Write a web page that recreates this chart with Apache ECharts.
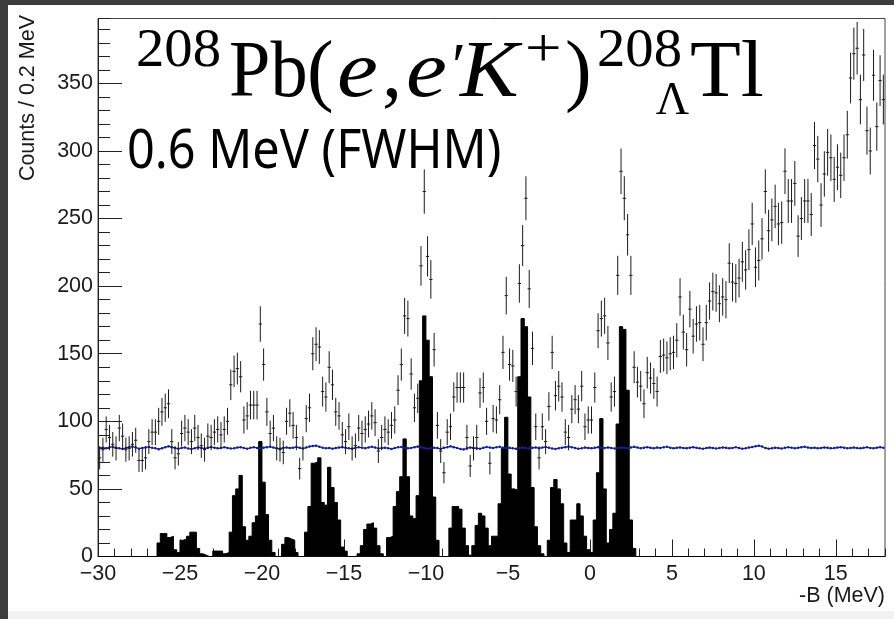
<!DOCTYPE html>
<html>
<head>
<meta charset="utf-8">
<script src="https://cdn.jsdelivr.net/npm/echarts@6.0.0/dist/echarts.min.js"></script>
<style>
  html, body { margin: 0; padding: 0; background: #ffffff; }
  #chart { width: 894px; height: 619px; }
</style>
</head>
<body>
<div id="chart"></div>
<script>
// Histogram binning: -B from -30 to 18 MeV in 0.2 MeV bins
const X_MIN = -30, X_MAX = 18, BIN = 0.2;

// Measured counts per 0.2 MeV bin (bin left edges -30.0 ... 17.8)
const dataCounts = [
  73, 79, 94, 88, 83, 80, 95, 89, 79, 80,
  83, 86, 71, 71, 73, 85, 92, 92, 100, 107,
  110, 113, 85, 73, 76, 91, 95, 92, 85, 95,
  88, 82, 79, 89, 88, 92, 94, 90, 94, 100,
  127, 137, 139, 133, 101, 104, 112, 112, 112, 172,
  142, 107, 91, 95, 80, 79, 77, 100, 106, 97,
  88, 65, 80, 102, 110, 150, 157, 155, 122, 118,
  140, 127, 107, 104, 90, 85, 96, 80, 82, 95,
  91, 94, 98, 104, 99, 78, 88, 94, 92, 97,
  101, 123, 142, 178, 176, 135, 110, 117, 215, 270,
  222, 205, 153, 97, 78, 62, 92, 96, 118, 125,
  125, 125, 88, 67, 80, 88, 121, 125, 100, 69,
  102, 101, 116, 151, 193, 142, 141, 122, 202, 230,
  265, 198, 154, 96, 73, 96, 85, 111, 151, 119,
  126, 118, 92, 88, 109, 116, 109, 126, 96, 101,
  101, 125, 167, 176, 178, 158, 118, 122, 208, 285,
  265, 238, 208, 140, 129, 126, 113, 136, 132, 128,
  122, 148, 149, 147, 150, 151, 160, 192, 166, 153,
  183, 163, 172, 173, 157, 173, 189, 196, 195, 187,
  192, 190, 217, 203, 202, 206, 218, 212, 227, 246,
  214, 219, 235, 270, 241, 249, 259, 246, 247, 285,
  263, 263, 276, 237, 250, 263, 263, 253, 304, 294,
  260, 283, 299, 295, 279, 288, 282, 295, 312, 354,
  372, 376, 338, 371, 315, 300, 356, 318, 352, 338
];

// Hypernuclear signal spectrum (filled), bins from -27.0 to 2.6; zero elsewhere
const signalStart = -27.0;
const signalCounts = [
  0, 0, 0, 10, 17, 17, 14, 15, 5, 3,
  12, 13, 15, 18, 18, 6, 2, 1, 0, 0,
  4, 4, 4, 2, 3, 18, 45, 50, 60, 22,
  12, 15, 25, 30, 85, 55, 31, 12, 3, 0,
  0, 9, 14, 13, 12, 3, 0, 0, 18, 37,
  69, 70, 73, 40, 38, 66, 51, 40, 27, 7,
  4, 0, 0, 0, 2, 8, 20, 24, 25, 21,
  8, 2, 0, 14, 15, 37, 48, 59, 87, 59,
  30, 28, 45, 130, 178, 160, 133, 44, 12, 0,
  0, 0, 21, 37, 37, 35, 21, 8, 1, 8,
  23, 32, 30, 21, 8, 15, 15, 39, 80, 103,
  61, 50, 49, 133, 176, 170, 118, 51, 22, 8,
  2, 0, 12, 51, 57, 50, 39, 10, 3, 27,
  27, 39, 30, 15, 5, 3, 27, 62, 102, 50,
  10, 20, 32, 98, 170, 168, 123, 27, 6
];

// Accidental background per bin (bin left edges -30.0 ... 17.8)
const backgroundCounts = [
  80.2, 80.5, 80.1, 80.8, 81.2, 80.4, 80.0, 79.6, 80.3, 80.9,
  81.3, 80.6, 79.8, 80.2, 80.7, 81.0, 80.4, 80.1, 79.4, 80.0,
  80.8, 81.5, 80.9, 80.2, 79.7, 80.3, 80.6, 79.9, 79.5, 80.1,
  80.7, 80.3, 79.8, 80.4, 81.0, 80.5, 80.0, 80.2, 80.8, 80.3,
  79.9, 80.1, 80.6, 80.9, 80.2, 79.7, 80.4, 80.8, 80.3, 80.0,
  80.5, 80.9, 81.2, 80.6, 80.1, 79.8, 80.3, 80.7, 80.2, 80.5,
  81.0, 80.4, 79.9, 80.6, 81.3, 81.8, 82.0, 81.2, 80.5, 80.1,
  80.3, 79.8, 80.2, 80.6, 80.9, 80.4, 80.0, 79.7, 80.3, 80.8,
  80.5, 80.1, 80.7, 81.2, 80.6, 79.9, 80.2, 80.5, 80.1, 79.6,
  80.2, 80.8, 81.0, 80.4, 80.0, 80.3, 80.9, 81.3, 80.7, 80.2,
  79.8, 80.1, 80.5, 80.2, 79.6, 80.4, 80.8, 81.5, 80.9, 80.3,
  79.6, 79.2, 80.0, 80.7, 80.3, 80.0, 79.7, 80.4, 81.0, 80.6,
  80.2, 80.8, 81.2, 80.5, 80.1, 80.4, 80.0, 79.8, 80.3, 80.6,
  80.2, 79.9, 80.4, 80.7, 80.1, 80.6, 81.0, 80.5, 79.9, 79.6,
  80.1, 80.5, 80.9, 81.3, 80.8, 80.2, 79.8, 80.1, 80.6, 80.3,
  80.0, 80.4, 80.9, 80.5, 80.2, 80.7, 80.3, 79.9, 80.2, 80.6,
  80.4, 80.0, 80.7, 81.1, 80.6, 80.1, 80.5, 80.9, 80.4, 80.0,
  80.6, 80.3, 80.8, 81.2, 80.5, 80.0, 80.4, 80.7, 80.2, 80.1,
  80.5, 80.9, 80.4, 80.0, 79.7, 80.2, 80.6, 80.3, 79.9, 80.2,
  80.7, 80.4, 80.0, 80.3, 80.8, 80.2, 79.8, 80.1, 80.6, 81.0,
  81.5, 82.0, 81.4, 80.3, 79.8, 80.1, 80.5, 80.2, 79.9, 80.4,
  80.8, 80.5, 80.1, 80.4, 80.9, 81.2, 80.6, 80.2, 80.5, 80.0,
  80.3, 80.7, 80.4, 80.0, 80.2, 80.6, 80.9, 80.5, 80.1, 80.3,
  80.6, 80.2, 80.0, 80.4, 80.8, 80.3, 80.1, 80.5, 80.9, 80.4
];

const Y_MAX = 398;
const xAxisTitle = '-B (MeV)';
const yAxisTitle = 'Counts / 0.2 MeV';

// ---- derived series data ----
const nBins = Math.round((X_MAX - X_MIN) / BIN);
const binLeft = i => +(X_MIN + i * BIN).toFixed(3);

const signalFull = new Array(nBins).fill(0);
const sigOffset = Math.round((signalStart - X_MIN) / BIN);
signalCounts.forEach((v, k) => { signalFull[sigOffset + k] = v; });
const signalStep = signalFull.map((v, i) => [binLeft(i), v]);
signalStep.push([X_MAX, 0]);

const dataPoints = dataCounts.map((v, i) => [binLeft(i) + BIN / 2, v, Math.sqrt(v)]);
const bgPoints = backgroundCounts.map((v, i) => [binLeft(i) + BIN / 2, v]);

const labelFont = 'Liberation Sans, Arial, sans-serif';
const serif = 'Liberation Serif, Times New Roman, serif';
const minusFmt = v => String(v).replace('-', '\u2212');

const chart = echarts.init(document.getElementById('chart'), null, { renderer: 'canvas' });

function titleText(text, x, y, size, opts = {}) {
  return {
    type: 'text', x: x, y: y, z: 100, silent: true,
    scaleX: opts.scaleX || 1,
    style: {
      text: text,
      font: (opts.italic ? 'italic ' : '') + size + 'px ' + (opts.font || serif),
      fill: '#000',
      align: opts.align || 'left',
      verticalAlign: 'middle'
    }
  };
}

const tickLine = { color: '#222', width: 1 };

const option = {
  animation: false,
  backgroundColor: '#ffffff',
  grid: {
    left: 98, right: 9, top: 18.5, bottom: 62.5,
    show: true, borderColor: '#444', borderWidth: 1, backgroundColor: 'transparent'
  },
  xAxis: [
    {
      type: 'value', min: X_MIN, max: X_MAX, interval: 1,
      axisLine: { show: true, onZero: false, lineStyle: tickLine },
      axisTick: { show: true, inside: true, length: 8, lineStyle: tickLine },
      axisLabel: { show: false },
      splitLine: { show: false }
    },
    {
      type: 'value', min: X_MIN, max: X_MAX, interval: 5, position: 'bottom',
      axisLine: { show: false, onZero: false },
      axisTick: { show: true, inside: true, length: 17, lineStyle: tickLine },
      axisLabel: {
        show: true, margin: 7, showMaxLabel: false,
        fontFamily: labelFont, fontSize: 21.5, color: '#1a1a1a',
        formatter: minusFmt
      },
      splitLine: { show: false }
    }
  ],
  yAxis: [
    {
      type: 'value', min: 0, max: Y_MAX, interval: 10,
      axisLine: { show: true, onZero: false, lineStyle: tickLine },
      axisTick: { show: true, inside: true, length: 12, lineStyle: tickLine },
      axisLabel: { show: false },
      splitLine: { show: false }
    },
    {
      type: 'value', min: 0, max: Y_MAX, interval: 50, position: 'left',
      axisLine: { show: false, onZero: false },
      axisTick: { show: true, inside: true, length: 24, lineStyle: tickLine },
      axisLabel: {
        show: true, margin: 5, showMaxLabel: false,
        fontFamily: labelFont, fontSize: 21.5, color: '#1a1a1a'
      },
      splitLine: { show: false }
    }
  ],
  series: [
    {
      name: 'signal', type: 'line', step: 'end',
      xAxisIndex: 0, yAxisIndex: 0,
      data: signalStep, symbol: 'none', z: 1,
      lineStyle: { color: '#000', width: 1 },
      areaStyle: { color: '#000', opacity: 1, origin: 'start' }
    },
    {
      name: 'background', type: 'line',
      xAxisIndex: 0, yAxisIndex: 0,
      data: bgPoints, symbol: 'circle', symbolSize: 2.5, z: 3,
      itemStyle: { color: '#14208c' },
      lineStyle: { color: '#14208c', width: 1.2 }
    },
    {
      name: 'data', type: 'custom',
      xAxisIndex: 0, yAxisIndex: 0, z: 4, clip: true,
      data: dataPoints,
      renderItem: function (params, api) {
        const xc = api.value(0), v = api.value(1), e = api.value(2);
        const pl = api.coord([xc - BIN / 2, v]);
        const pr = api.coord([xc + BIN / 2, v]);
        const pt = api.coord([xc, v + e]);
        const pb = api.coord([xc, v - e]);
        const st = { stroke: '#1b1b1b', lineWidth: 1 };
        return {
          type: 'group',
          children: [
            { type: 'line', shape: { x1: pl[0], y1: pl[1], x2: pr[0], y2: pr[1] }, style: st },
            { type: 'line', shape: { x1: pt[0], y1: pt[1], x2: pb[0], y2: pb[1] }, style: st }
          ]
        };
      }
    }
  ],
  graphic: {
    elements: [
      // page frame
      { type: 'rect', shape: { x: 0, y: 0, width: 894, height: 5 }, style: { fill: '#3c3c3c' }, z: 200, silent: true },
      { type: 'rect', shape: { x: 0, y: 0, width: 8, height: 619 }, style: { fill: '#3c3c3c' }, z: 200, silent: true },
      { type: 'rect', shape: { x: 8, y: 611, width: 886, height: 8 }, style: { fill: '#f2f2f2' }, z: 200, silent: true },
      // axis titles
      {
        type: 'text', x: 28, y: 15, rotation: Math.PI / 2, z: 100, silent: true,
        style: { text: yAxisTitle, font: '21.5px ' + labelFont, fill: '#1a1a1a', align: 'right', verticalAlign: 'middle' }
      },
      {
        type: 'text', x: 885, y: 596, z: 100, silent: true,
        style: { text: xAxisTitle, font: '21.5px ' + labelFont, fill: '#1a1a1a', align: 'right', verticalAlign: 'middle' }
      },
      // reaction label
      titleText('208', 136, 52, 54, { scaleX: 1.05 }),
      titleText('Pb', 229, 75, 80, { scaleX: 0.93 }),
      titleText('(', 307, 75, 80),
      titleText('e', 337, 75, 80, { italic: true, scaleX: 1.15 }),
      titleText(',', 382, 75, 80),
      titleText('e', 406, 75, 80, { italic: true, scaleX: 1.15 }),
      titleText('\u2032', 452, 70, 64),
      titleText('K', 460, 75, 80, { italic: true, scaleX: 1.1 }),
      titleText('+', 525, 52, 54, { scaleX: 1.2 }),
      titleText(')', 565, 75, 80),
      titleText('208', 597, 52, 54, { scaleX: 1.05 }),
      titleText('\u039B', 689, 102, 46, { align: 'right' }),
      titleText('Tl', 690, 75, 80, { scaleX: 1.04 }),
      titleText('0.6 MeV (FWHM)', 127, 153, 54, { font: 'Noto Sans, sans-serif', scaleX: 0.9 })
    ]
  }
};

chart.setOption(option);
</script>
</body>
</html>
